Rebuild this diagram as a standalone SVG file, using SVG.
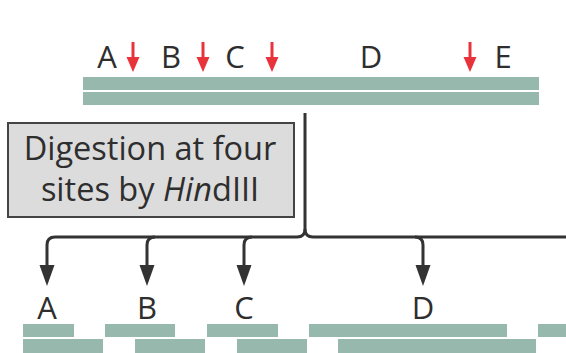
<svg xmlns="http://www.w3.org/2000/svg" width="566" height="353" viewBox="0 0 566 353">
<defs>
<style>
.lbl{font-family:"Open Sans","Noto Sans","DejaVu Sans",sans-serif;font-size:31px;fill:#2e2e2e;text-anchor:middle}
.box{font-family:"Open Sans","Noto Sans","DejaVu Sans",sans-serif;font-size:32.5px;fill:#2e2e2e;text-anchor:middle}
.bar{fill:#97b8ad}
.conn{fill:none;stroke:#333;stroke-width:3}
.cut{fill:none;stroke:#e8333a;stroke-width:3}
</style>
<marker id="ah" markerUnits="userSpaceOnUse" markerWidth="24" markerHeight="18" refX="0" refY="0" viewBox="0 -9 24 18" orient="auto" overflow="visible">
<path d="M0,-7.5 L21,0 L0,7.5 Z" fill="#333"/>
</marker>
<marker id="rh" markerUnits="userSpaceOnUse" markerWidth="18" markerHeight="16" refX="0" refY="0" viewBox="0 -8 18 16" orient="auto" overflow="visible">
<path d="M0,-6.5 L15,0 L0,6.5 Z" fill="#e8333a"/>
</marker>
</defs>
<rect width="566" height="353" fill="#fff"/>

<g id="dna">
<rect class="bar" x="83" y="77" width="456" height="13"/>
<rect class="bar" x="83" y="92" width="456" height="13"/>
<text class="lbl" x="107" y="68">A</text>
<text class="lbl" x="171" y="68">B</text>
<text class="lbl" x="235" y="68">C</text>
<text class="lbl" x="371" y="68">D</text>
<text class="lbl" x="503" y="68">E</text>
</g>

<g id="cuts">
<path class="cut" d="M133,42 V57" marker-end="url(#rh)"/>
<path class="cut" d="M203,42 V57" marker-end="url(#rh)"/>
<path class="cut" d="M272,42 V57" marker-end="url(#rh)"/>
<path class="cut" d="M470,42 V57" marker-end="url(#rh)"/>
</g>

<g id="enzyme-box">
<rect x="8" y="123" width="286" height="94" fill="#dcdcdc" stroke="#444" stroke-width="2"/>
<text class="box" x="150" y="160">Digestion at four</text>
<text class="box" x="150" y="201">sites by <tspan font-style="italic">Hin</tspan>dIII</text>
</g>

<g id="connectors">
<path class="conn" d="M305,113 V229 Q305,237 297,237 H55 Q47,237 47,245 V265" marker-end="url(#ah)"/>
<path class="conn" d="M305,229 Q305,237 313,237 H566"/>
<path class="conn" d="M155,237 Q147,237 147,245 V265" marker-end="url(#ah)"/>
<path class="conn" d="M252,237 Q244,237 244,245 V265" marker-end="url(#ah)"/>
<path class="conn" d="M415,237 Q423,237 423,245 V265" marker-end="url(#ah)"/>
</g>

<g id="fragments">
<text class="lbl" x="47" y="319">A</text>
<text class="lbl" x="147" y="319">B</text>
<text class="lbl" x="244" y="319">C</text>
<text class="lbl" x="423" y="319">D</text>
<rect class="bar" x="23" y="324" width="51" height="13"/>
<rect class="bar" x="105" y="324" width="70" height="13"/>
<rect class="bar" x="207" y="324" width="71" height="13"/>
<rect class="bar" x="309" y="324" width="198" height="13"/>
<rect class="bar" x="538" y="324" width="28" height="13"/>
<rect class="bar" x="23" y="339" width="80" height="14"/>
<rect class="bar" x="135" y="339" width="70" height="14"/>
<rect class="bar" x="237" y="339" width="70" height="14"/>
<rect class="bar" x="338" y="339" width="198" height="14"/>
</g>
</svg>
